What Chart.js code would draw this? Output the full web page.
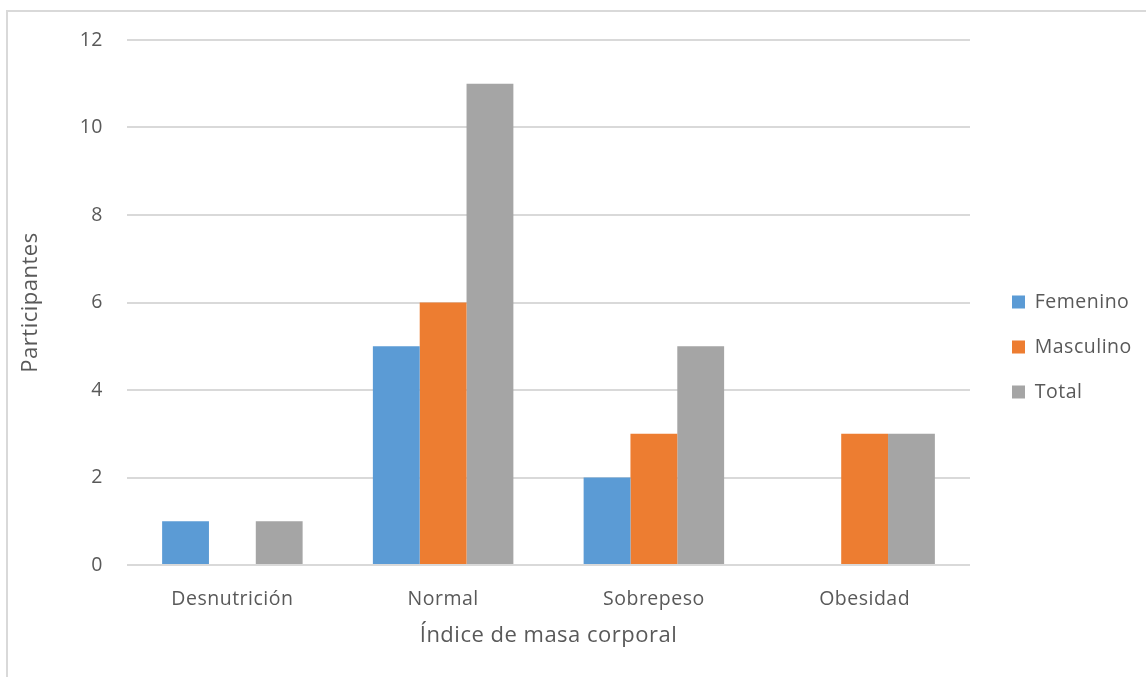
<!DOCTYPE html>
<html>
<head>
<meta charset="utf-8">
<script src="https://cdn.jsdelivr.net/npm/chart.js@4.4.1/dist/chart.umd.min.js"></script>
<style>
  html, body { margin: 0; padding: 0; background: #ffffff; }
  #wrap { position: relative; width: 1146px; height: 677px; overflow: hidden; }
  #frame { position: absolute; left: 6px; top: 10px; width: 1200px; height: 700px;
           border-top: 2px solid #d9d9d9; border-left: 2px solid #d9d9d9; pointer-events: none; }
  canvas { position: absolute; left: 0; top: 0; }
</style>
</head>
<body>
<div id="wrap">
  <canvas id="chart" width="1146" height="677"></canvas>
  <div id="frame"></div>
</div>
<script>
// Body-mass-index groups and participant counts per sex
const categories = ['Desnutrición', 'Normal', 'Sobrepeso', 'Obesidad'];
const femenino  = [1, 5, 2, 0];
const masculino = [0, 6, 3, 3];
const total     = [1, 11, 5, 3];
const seriesNames = ['Femenino', 'Masculino', 'Total'];
const yTicks = [0, 2, 4, 6, 8, 10, 12];

const FONT = "'Open Sans', 'DejaVu Sans', sans-serif";
const TEXT = '#595959';
const GRID = '#d9d9d9';

// Slightly looser tracking for all canvas text
const textSpacing = {
  id: 'textSpacing',
  beforeInit(chart) { chart.ctx.letterSpacing = '0.5px'; },
  beforeUpdate(chart) { chart.ctx.letterSpacing = '0.5px'; },
  beforeDraw(chart) { chart.ctx.letterSpacing = '0.5px'; }
};

// Legend sizing / placement helpers
const legendPlacement = {
  id: 'legendPlacement',
  beforeInit(chart) {
    const fit = chart.legend.fit;
    chart.legend.fit = function () {
      fit.call(this);
      this.width = 176;
    };
  },
  afterLayout(chart) {
    const lg = chart.legend;
    const pad = chart.options.plugins.legend.labels.padding;
    const shift = 1012 - (lg.left + pad);
    lg.left += shift; lg.right += shift;
    lg.top = 12; lg.bottom = 682;
  }
};

new Chart(document.getElementById('chart'), {
  type: 'bar',
  data: {
    labels: categories,
    datasets: [
      { label: seriesNames[0], data: femenino,  backgroundColor: '#5b9bd5' },
      { label: seriesNames[1], data: masculino, backgroundColor: '#ed7d31' },
      { label: seriesNames[2], data: total,     backgroundColor: '#a5a5a5' }
    ]
  },
  options: {
    responsive: false,
    animation: false,
    devicePixelRatio: 1,
    layout: { padding: { left: 0, right: 0, top: 40, bottom: 0 } },
    datasets: { bar: { categoryPercentage: 3 / 4.5, barPercentage: 1.0 } },
    scales: {
      x: {
        grid: { display: false },
        border: { display: false },
        ticks: { color: TEXT, font: { family: FONT, size: 19.5 }, padding: 15 },
        title: { display: true, text: 'Índice de masa corporal', color: TEXT,
                 font: { family: FONT, size: 22 }, padding: { top: 0, bottom: 28 } },
        afterFit(scale) { scale.height = 112; }
      },
      y: {
        min: 0, max: 12,
        afterBuildTicks(scale) { scale.ticks = yTicks.map(v => ({ value: v })); },
        grid: { color: GRID, lineWidth: 2, drawTicks: false },
        border: { display: false },
        ticks: { color: TEXT, font: { family: FONT, size: 19.5 }, padding: 24 },
        title: { display: true, text: 'Participantes', color: TEXT,
                 font: { family: FONT, size: 22 }, padding: { top: 18, bottom: 0 } },
        afterFit(scale) { scale.width = 127; }
      }
    },
    plugins: {
      legend: {
        position: 'right',
        align: 'center',
        labels: { color: TEXT, font: { family: FONT, size: 19.5 }, boxWidth: 13, boxHeight: 13, padding: 25.5 }
      },
      tooltip: { enabled: false }
    }
  },
  plugins: [textSpacing, legendPlacement]
});
</script>
</body>
</html>
